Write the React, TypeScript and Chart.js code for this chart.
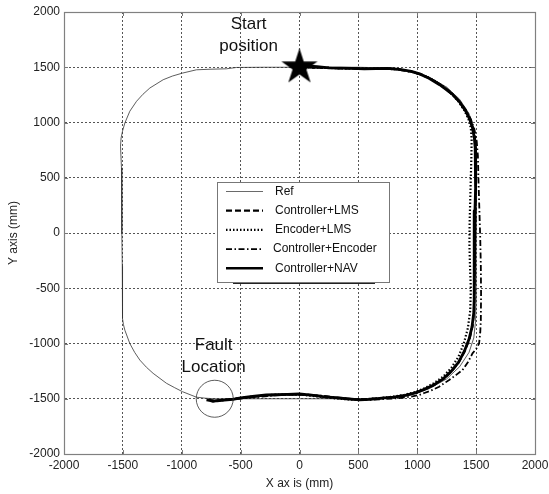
import React, { useEffect, useRef } from "react";
import { Chart, registerables } from "chart.js";

Chart.register(...registerables);

// ---------- data ----------
const axisMin = -2000;
const axisMax = 2000;
const tickStep = 500;

const legendLabels = ["Ref", "Controller+LMS", "Encoder+LMS", "Controller+Encoder", "Controller+NAV"];

const refX = [0, -300, -536, -621, -760, -875, -994, -1080, -1158, -1271, -1330, -1384, -1441, -1483, -1503, -1515, -1520, -1512, -1510, -1508, -1505, -1503, -1503, -1495, -1483, -1441, -1400, -1356, -1300, -1243, -1130, -1060, -994, -875, -800, -720, -500, 0, 500, 800, 950, 1100, 1250, 1360, 1440, 1480, 1495, 1500, 1500, 1495, 1480, 1440, 1360, 1250, 1100, 950, 800, 500, 0];
const refY = [1500, 1500, 1498, 1486, 1482, 1477, 1447, 1420, 1387, 1312, 1255, 1192, 1102, 996, 922, 860, 786, 591, 300, 0, -300, -520, -775, -830, -880, -1000, -1080, -1150, -1215, -1270, -1360, -1400, -1436, -1486, -1495, -1500, -1500, -1500, -1500, -1492, -1465, -1410, -1320, -1210, -1080, -950, -800, -600, 600, 800, 950, 1080, 1210, 1320, 1410, 1465, 1492, 1500, 1500];

const lmsX = [0, 80, 200, 320, 450, 580, 700, 820, 940, 1030, 1120, 1200, 1290, 1360, 1415, 1455, 1480, 1495, 1500, 1498, 1494, 1490, 1488, 1486, 1483, 1470, 1445, 1405, 1355, 1295, 1225, 1150, 1070, 995, 900, 800, 700, 600, 500, 380, 250, 120, 0, -120, -250, -380, -500, -620, -720, -780];
const lmsY = [1505, 1498, 1495, 1492, 1488, 1486, 1488, 1482, 1462, 1435, 1392, 1338, 1262, 1185, 1100, 1020, 930, 820, 650, 450, 200, -50, -300, -500, -700, -840, -955, -1065, -1165, -1248, -1318, -1372, -1412, -1442, -1468, -1484, -1494, -1502, -1506, -1498, -1484, -1468, -1460, -1462, -1468, -1480, -1494, -1508, -1518, -1512];

const encX = [0, 100, 220, 350, 480, 600, 720, 840, 950, 1040, 1130, 1210, 1290, 1350, 1400, 1435, 1455, 1462, 1460, 1455, 1450, 1445, 1443, 1448, 1455, 1450, 1430, 1395, 1350, 1290, 1220, 1140, 1060, 980, 890, 790, 680, 560, 440, 300, 160, 20, -120, -260, -400, -540, -660, -750];
const encY = [1508, 1500, 1495, 1490, 1490, 1484, 1488, 1480, 1460, 1432, 1388, 1335, 1260, 1190, 1110, 1030, 950, 850, 700, 500, 300, 100, -100, -300, -500, -700, -860, -1000, -1120, -1220, -1300, -1360, -1405, -1440, -1465, -1482, -1494, -1504, -1508, -1496, -1480, -1464, -1460, -1466, -1480, -1500, -1515, -1520];

const ceX = [0, 120, 260, 400, 540, 680, 800, 920, 1020, 1110, 1200, 1280, 1350, 1410, 1455, 1485, 1505, 1515, 1520, 1528, 1535, 1540, 1542, 1540, 1535, 1525, 1500, 1469, 1430, 1384, 1328, 1271, 1186, 1130, 1060, 1017, 950, 850, 720, 600, 480, 340, 200, 60, -80, -220, -360, -500, -620, -700];
const ceY = [1500, 1495, 1492, 1490, 1486, 1488, 1482, 1466, 1440, 1400, 1345, 1280, 1205, 1120, 1030, 940, 830, 700, 470, 200, -50, -300, -550, -790, -900, -1000, -1050, -1090, -1170, -1240, -1286, -1330, -1391, -1420, -1448, -1466, -1480, -1494, -1502, -1510, -1506, -1490, -1474, -1462, -1462, -1470, -1484, -1498, -1510, -1515];

const navX = [0, 60, 150, 250, 350, 450, 550, 650, 750, 850, 950, 1020, 1100, 1190, 1250, 1300, 1360, 1412, 1445, 1469, 1485, 1492, 1497, 1494, 1490, 1486, 1484, 1483, 1482, 1480, 1465, 1440, 1400, 1350, 1290, 1220, 1140, 1060, 990, 900, 800, 700, 600, 508, 400, 300, 200, 100, 0, -100, -200, -282, -400, -500, -565, -640, -700, -734, -760, -790];
const navY = [1500, 1512, 1505, 1495, 1492, 1490, 1485, 1487, 1490, 1480, 1462, 1440, 1400, 1342, 1295, 1255, 1185, 1102, 1030, 951, 860, 771, 600, 400, 200, 0, -200, -400, -600, -720, -850, -960, -1070, -1170, -1250, -1320, -1375, -1415, -1445, -1470, -1485, -1495, -1505, -1511, -1500, -1490, -1480, -1468, -1457, -1460, -1464, -1466, -1478, -1492, -1505, -1512, -1518, -1524, -1515, -1510];

const startPos = [0, 1500];
const faultPos = [-720, -1500];
const startLabel = ["Start", "position"];
const faultLabel = ["Fault", "Location"];
const startLabelAt = [-432, 1786];
const faultLabelAt = [-729, -1114];

// ---------- helpers ----------
const FONT = "'Liberation Sans', Arial, Helvetica, sans-serif";
const zip = (xs: number[], ys: number[]) => xs.map((x, i) => ({ x, y: ys[i] }));

const legendStyles = [
  { width: 0.8, dash: [] as number[], color: "#444" },
  { width: 2.2, dash: [6, 3] },
  { width: 2.2, dash: [1.5, 2] },
  { width: 1.8, dash: [6, 2.5, 1.5, 2.5] },
  { width: 2.6, dash: [] as number[] },
];

function makeStar(R: number): HTMLCanvasElement {
  const c = document.createElement("canvas");
  const size = Math.ceil(R * 2 + 4);
  c.width = size;
  c.height = size;
  const g = c.getContext("2d")!;
  const cx = size / 2;
  const cy = size / 2;
  const r = R * 0.382;
  g.beginPath();
  for (let i = 0; i < 10; i++) {
    const rad = i % 2 === 0 ? R : r;
    const a = -Math.PI / 2 + (i * Math.PI) / 5;
    const px = cx + rad * Math.cos(a);
    const py = cy + rad * Math.sin(a);
    if (i === 0) g.moveTo(px, py);
    else g.lineTo(px, py);
  }
  g.closePath();
  g.fillStyle = "#000";
  g.fill();
  return c;
}

const overlayPlugin = {
  id: "overlay",
  afterDraw(chart: any) {
    const { ctx, chartArea: a, scales } = chart;
    const xs = scales.x;
    const ys = scales.y;
    ctx.save();
    // inward ticks
    ctx.strokeStyle = "#777";
    ctx.lineWidth = 1;
    ctx.setLineDash([]);
    const tl = 4;
    for (let v = axisMin; v <= axisMax; v += tickStep) {
      const px = Math.round(xs.getPixelForValue(v)) + 0.5;
      const py = Math.round(ys.getPixelForValue(v)) + 0.5;
      ctx.beginPath();
      ctx.moveTo(px, a.bottom);
      ctx.lineTo(px, a.bottom - tl);
      ctx.moveTo(px, a.top);
      ctx.lineTo(px, a.top + tl);
      ctx.moveTo(a.left, py);
      ctx.lineTo(a.left + tl, py);
      ctx.moveTo(a.right, py);
      ctx.lineTo(a.right - tl, py);
      ctx.stroke();
    }
    // frame
    ctx.strokeStyle = "#808080";
    ctx.lineWidth = 1.2;
    ctx.strokeRect(Math.round(a.left) + 0.5, Math.round(a.top) + 0.5, Math.round(a.right - a.left), Math.round(a.bottom - a.top));

    // legend
    const lx = 217, ly = 182, lw = 172, lh = 100;
    ctx.fillStyle = "#222";
    ctx.fillRect(lx + 16, ly + lh, lw - 30, 2);
    ctx.fillStyle = "#fff";
    ctx.fillRect(lx, ly, lw, lh);
    ctx.strokeStyle = "#777";
    ctx.lineWidth = 1;
    ctx.strokeRect(lx + 0.5, ly + 0.5, lw, lh);
    ctx.font = `12px ${FONT}`;
    ctx.textBaseline = "middle";
    ctx.textAlign = "left";
    legendLabels.forEach((label, i) => {
      const y = ly + 9.5 + i * 19.2;
      const st = legendStyles[i];
      ctx.beginPath();
      ctx.strokeStyle = (st as any).color || "#000";
      ctx.lineWidth = st.width;
      ctx.setLineDash(st.dash);
      ctx.moveTo(lx + 9, y);
      ctx.lineTo(lx + 46, y);
      ctx.stroke();
      ctx.setLineDash([]);
      ctx.fillStyle = "#111";
      ctx.fillText(label, lx + (i === 3 ? 56 : 58), y);
    });

    // annotations
    ctx.font = `17px ${FONT}`;
    ctx.textAlign = "center";
    ctx.fillStyle = "#111";
    const sx = xs.getPixelForValue(startLabelAt[0]);
    const sy = ys.getPixelForValue(startLabelAt[1]);
    ctx.fillText(startLabel[0], sx, sy - 11);
    ctx.fillText(startLabel[1], sx, sy + 11);
    const fx = xs.getPixelForValue(faultLabelAt[0]);
    const fy = ys.getPixelForValue(faultLabelAt[1]);
    ctx.fillText(faultLabel[0], fx, fy - 11);
    ctx.fillText(faultLabel[1], fx, fy + 11);
    ctx.restore();
  },
};

export default function App() {
  const canvasRef = useRef<HTMLCanvasElement>(null);

  useEffect(() => {
    const canvas = canvasRef.current!;
    const star = makeStar(19);
    const lineDs = (label: string, xs: number[], ys: number[], width: number, dash: number[], color = "#000") => ({
      label,
      data: zip(xs, ys),
      showLine: true,
      borderColor: color,
      borderWidth: width,
      borderDash: dash,
      borderJoinStyle: "round" as const,
      pointRadius: 0,
      pointHoverRadius: 0,
      fill: false,
      tension: 0,
    });

    const chart = new Chart(canvas, {
      type: "scatter",
      data: {
        datasets: [
          {
            label: "Start",
            data: [{ x: startPos[0], y: startPos[1] }],
            pointStyle: star as any,
            pointRadius: 19,
            showLine: false,
          } as any,
          {
            label: "Fault",
            data: [{ x: faultPos[0], y: faultPos[1] }],
            pointStyle: "circle",
            pointRadius: 18.5,
            pointBorderColor: "#333",
            pointBorderWidth: 0.8,
            pointBackgroundColor: "rgba(0,0,0,0)",
            showLine: false,
          } as any,
          lineDs(legendLabels[4], navX, navY, 2.8, []),
          lineDs(legendLabels[3], ceX, ceY, 1.8, [6, 2.5, 1.5, 2.5]),
          lineDs(legendLabels[2], encX, encY, 2.2, [1.5, 2]),
          lineDs(legendLabels[1], lmsX, lmsY, 2.2, [6, 3]),
          lineDs(legendLabels[0], refX, refY, 0.8, [], "#333"),
        ],
      },
      options: {
        responsive: false,
        animation: false,
        devicePixelRatio: 1,
        layout: { autoPadding: false, padding: { left: 0, right: 14, top: 12, bottom: 0 } },
        plugins: { legend: { display: false }, tooltip: { enabled: false } },
        events: [],
        scales: {
          x: {
            type: "linear",
            min: axisMin,
            max: axisMax,
            ticks: {
              stepSize: tickStep,
              font: { family: FONT, size: 12 },
              color: "#222",
              padding: 4,
              maxRotation: 0,
              autoSkip: false,
              callback: (v: any) => String(v),
            },
            grid: { color: "#555", lineWidth: 1, drawTicks: false },
            border: { display: true, color: "#808080", width: 1, dash: [2, 2] },
            title: {
              display: true,
              text: "X ax is (mm)",
              font: { family: FONT, size: 12 },
              color: "#222",
              padding: { top: 0, bottom: 3 },
            },
            afterFit: (s: any) => {
              s.height = 40;
              s.paddingLeft = 0;
              s.paddingRight = 0;
            },
          },
          y: {
            type: "linear",
            min: axisMin,
            max: axisMax,
            ticks: {
              stepSize: tickStep,
              font: { family: FONT, size: 12 },
              color: "#222",
              padding: 4,
              autoSkip: false,
              callback: (v: any) => String(v),
            },
            grid: { color: "#555", lineWidth: 1, drawTicks: false },
            border: { display: true, color: "#808080", width: 1, dash: [2, 2] },
            title: {
              display: true,
              text: "Y axis (mm)",
              font: { family: FONT, size: 12 },
              color: "#222",
              padding: { top: 6, bottom: 0 },
            },
            afterFit: (s: any) => {
              s.width = 64;
              s.paddingTop = 0;
              s.paddingBottom = 0;
            },
          },
        },
      } as any,
      plugins: [overlayPlugin],
    });
    return () => chart.destroy();
  }, []);

  return (
    <div style={{ position: "absolute", left: 0, top: 0, width: 549, height: 494, background: "#fff" }}>
      <canvas ref={canvasRef} width={549} height={494} style={{ display: "block", width: 549, height: 494 }} />
    </div>
  );
}
